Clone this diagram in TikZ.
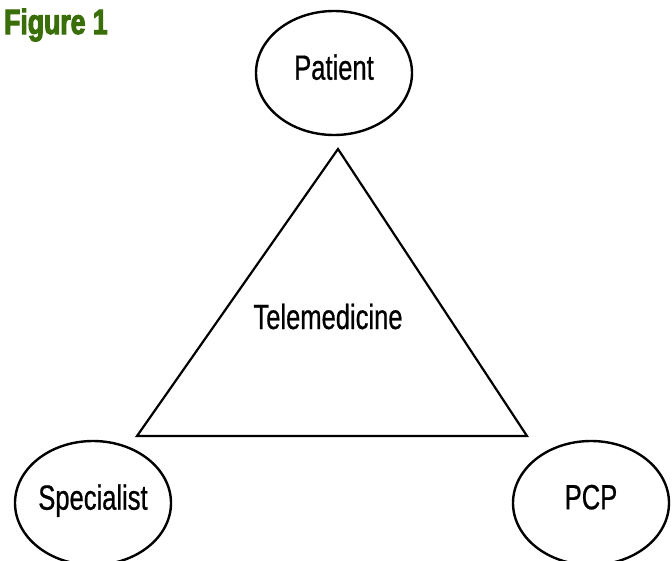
\documentclass[tikz,border=0pt]{standalone}
\usepackage{fontspec}
\setmainfont[FakeStretch=0.73,FakeBold=0.6]{Liberation Sans}
\newfontfamily\titlefont[FakeStretch=0.76,FakeBold=3]{Liberation Sans Bold}
\usepackage{tikz}
\usetikzlibrary{shapes.geometric}
\definecolor{figgreen}{RGB}{58,110,8}
\tikzset{
	party/.style={ellipse,draw,line width=2.4pt,minimum width=156pt,minimum height=124pt,inner sep=0pt,text depth=12pt},
	txt/.style={inner sep=0pt}
}

\begin{document}
\begin{tikzpicture}[x=1pt,y=-1pt,every node/.style={font=\fontsize{35}{42}\selectfont}]
		\useasboundingbox (0,0) rectangle (672,560);
		% heading
		\node[anchor=base west,inner sep=0pt,text=figgreen,font=\titlefont\fontsize{35}{42}\selectfont] (title) at (4,34) {Figure 1};
		% the three parties
		\node[party] (patient) at (334,73) {Patient};
		\node[party] (specialist) at (93,503) {Specialist};
		\node[party] (pcp) at (591,503) {PCP};
		% triangle between them
		\coordinate (top) at (338,149);
		\coordinate (left) at (137,436);
		\coordinate (right) at (527,436);
		\draw[line width=2.2pt,line join=miter] (top) -- (right) -- (left) -- cycle;
		\node[txt,anchor=base] (tele) at (328,329) {Telemedicine};
	\end{tikzpicture}
\end{document}
